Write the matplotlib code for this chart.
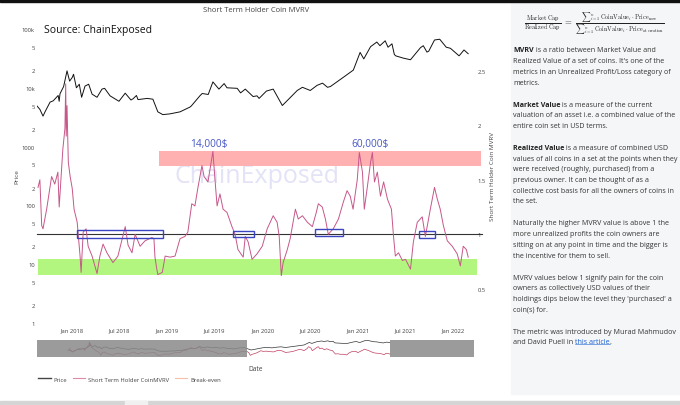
import matplotlib
matplotlib.use("Agg")
import matplotlib.pyplot as plt
import matplotlib.dates as mdates
from matplotlib.lines import Line2D
from matplotlib.patches import Rectangle
import pandas as pd

plt.rcParams['font.family'] = ['Open Sans', 'DejaVu Sans']
plt.rcParams['mathtext.fontset'] = 'cm'

# ---- values ----
price_dates = ['2017-08-19', '2017-08-30', '2017-09-11', '2017-09-20', '2017-10-08', '2017-10-20',
               '2017-11-08', '2017-11-12', '2017-11-15', '2017-11-29', '2017-12-12', '2017-12-22',
               '2018-01-01', '2018-01-06', '2018-01-17', '2018-01-28', '2018-02-06', '2018-02-19',
               '2018-03-05', '2018-03-18', '2018-04-06', '2018-04-25', '2018-05-05', '2018-05-26',
               '2018-06-29', '2018-07-23', '2018-08-14', '2018-08-22', '2018-09-04', '2018-09-10',
               '2018-10-15', '2018-11-06', '2018-11-25', '2018-12-14', '2019-01-10', '2019-02-18',
               '2019-03-28', '2019-04-02', '2019-05-05', '2019-05-14', '2019-06-06', '2019-06-24',
               '2019-07-17', '2019-08-06', '2019-08-17', '2019-09-25', '2019-10-08', '2019-10-26',
               '2019-11-25', '2019-12-10', '2019-12-18', '2020-01-15', '2020-02-10', '2020-03-16',
               '2020-04-15', '2020-05-12', '2020-06-01', '2020-07-01', '2020-07-27', '2020-08-17',
               '2020-09-05', '2020-09-16', '2020-11-04', '2020-12-13', '2021-01-08', '2021-01-22',
               '2021-02-17', '2021-03-13', '2021-03-25', '2021-04-14', '2021-04-25', '2021-05-10',
               '2021-05-19', '2021-05-24', '2021-06-22', '2021-07-20', '2021-08-27', '2021-09-07',
               '2021-09-21', '2021-09-28', '2021-10-20', '2021-11-09', '2021-12-04', '2021-12-20',
               '2022-01-22', '2022-01-27', '2022-02-10', '2022-02-26']
price_values = [4900, 4300, 3300, 4000, 5700, 6000,
                7400, 5900, 7900, 10500, 19400, 13000,
                15000, 17000, 10000, 11500, 6900, 10700,
                11500, 7800, 6900, 9500, 9800, 7300,
                5900, 8100, 6200, 6500, 7400, 6300,
                6600, 6400, 3900, 3500, 3600, 3900,
                4700, 4900, 7300, 8000, 7700, 12600,
                9500, 11800, 10000, 9800, 8200, 9500,
                7100, 7300, 6600, 8800, 9500, 5000,
                6800, 9000, 10200, 9000, 11000, 12000,
                10200, 10500, 15000, 20000, 40000, 31000,
                50000, 60000, 52000, 63000, 49000, 56000,
                37000, 35000, 32000, 30000, 48000, 52000,
                40500, 42000, 65000, 67000, 49000, 47000,
                35000, 37000, 44000, 38000]

mvrv_dates = ['2017-08-23', '2017-08-30', '2017-09-06', '2017-09-11', '2017-09-25', '2017-10-14',
              '2017-10-26', '2017-11-07', '2017-11-12', '2017-11-23', '2017-11-26', '2017-12-04',
              '2017-12-07', '2017-12-09', '2017-12-12', '2017-12-17', '2017-12-24', '2018-01-01',
              '2018-01-08', '2018-01-20', '2018-01-31', '2018-02-04', '2018-02-12', '2018-02-23',
              '2018-03-03', '2018-03-18', '2018-04-06', '2018-04-17', '2018-04-29', '2018-05-14',
              '2018-06-06', '2018-06-25', '2018-07-23', '2018-08-03', '2018-08-18', '2018-08-30',
              '2018-09-18', '2018-10-07', '2018-11-02', '2018-11-10', '2018-11-14', '2018-11-21',
              '2018-11-25', '2018-12-12', '2018-12-23', '2019-01-11', '2019-01-30', '2019-02-18',
              '2019-03-09', '2019-03-20', '2019-04-04', '2019-04-16', '2019-04-27', '2019-05-13',
              '2019-05-21', '2019-06-05', '2019-06-24', '2019-07-02', '2019-07-10', '2019-07-21',
              '2019-08-02', '2019-08-17', '2019-09-05', '2019-09-17', '2019-09-28', '2019-10-18',
              '2019-10-26', '2019-11-06', '2019-11-21', '2019-12-10', '2019-12-30', '2020-01-18',
              '2020-02-10', '2020-02-25', '2020-03-04', '2020-03-12', '2020-03-19', '2020-04-04',
              '2020-04-15', '2020-05-05', '2020-05-16', '2020-06-01', '2020-06-20', '2020-07-09',
              '2020-07-24', '2020-08-01', '2020-08-16', '2020-08-28', '2020-09-08', '2020-09-27',
              '2020-10-17', '2020-11-04', '2020-11-19', '2020-12-01', '2020-12-12', '2020-12-28',
              '2021-01-05', '2021-01-17', '2021-01-24', '2021-02-05', '2021-02-17', '2021-02-24',
              '2021-03-04', '2021-03-15', '2021-03-27', '2021-04-08', '2021-04-23', '2021-05-08',
              '2021-05-16', '2021-05-23', '2021-06-04', '2021-06-19', '2021-07-01', '2021-07-20',
              '2021-07-31', '2021-08-15', '2021-09-03', '2021-09-15', '2021-10-04', '2021-10-20',
              '2021-10-31', '2021-11-11', '2021-11-23', '2021-12-08', '2021-12-27', '2022-01-15',
              '2022-01-27', '2022-02-07', '2022-02-19', '2022-02-26']
mvrv_values = [1.43, 1.50, 1.08, 1.05, 1.23, 1.53,
               1.46, 1.57, 1.25, 1.66, 1.78, 1.97,
               2.38, 1.90, 2.18, 1.66, 1.53, 1.42,
               1.23, 1.11, 0.80, 0.65, 1.02, 1.05,
               0.89, 0.80, 0.64, 0.80, 0.91, 0.83,
               0.74, 0.80, 1.07, 0.90, 0.83, 1.00,
               0.89, 0.94, 0.97, 0.96, 0.79, 0.68,
               0.63, 0.65, 0.80, 0.79, 0.80, 0.96,
               0.98, 1.02, 1.28, 1.26, 1.42, 1.63,
               1.53, 1.48, 1.76, 1.50, 1.26, 1.37,
               1.23, 1.20, 1.07, 1.00, 0.86, 0.79,
               0.98, 0.93, 0.77, 0.82, 0.89, 1.05,
               1.17, 1.11, 0.98, 0.62, 0.74, 0.86,
               0.96, 1.23, 1.14, 1.17, 1.11, 1.07,
               1.20, 1.28, 1.25, 1.14, 1.00, 1.05,
               1.14, 1.29, 1.40, 1.35, 1.23, 1.50,
               1.75, 1.57, 1.23, 1.44, 1.66, 1.75,
               1.48, 1.57, 1.35, 1.48, 1.32, 1.23,
               0.98, 0.80, 0.83, 0.76, 0.77, 0.68,
               0.93, 1.11, 1.16, 0.98, 1.23, 1.43,
               1.32, 1.23, 1.08, 0.94, 0.89, 0.82,
               0.71, 0.89, 0.86, 0.79]

# zones and boxes drawn on the MVRV scale
red_zone = ('2018-11-29', '2022-04-16', 1.627, 1.764)
green_zone = ('2017-08-22', '2022-04-01', 0.627, 0.773)
break_even = ('2017-08-19', '2022-04-20', 1.0)
box_starts = ['2018-01-20', '2019-09-09', '2020-07-20', '2021-08-23']
box_ends = ['2018-12-16', '2019-11-29', '2020-11-04', '2021-10-23']
box_lows = [0.966, 0.975, 0.984, 0.966]
box_highs = [1.04, 1.03, 1.05, 1.03]
peak_labels = ['14,000$', '60,000$']
peak_dates = ['2019-06-09', '2021-02-17']
peak_y = [1.83, 1.83]

price_ticks = [1, 2, 5, 10, 20, 50, 100, 200, 500, 1000, 2000, 5000, 10000, 20000, 50000, 100000]
price_tick_labels = ['1', '2', '5', '10', '2', '5', '100', '2', '5', '1000', '2', '5', '10k', '2', '5', '100k']
mvrv_ticks = [0.5, 1, 1.5, 2, 2.5]
mvrv_tick_labels = ['0.5', '1', '1.5', '2', '2.5']
date_ticks = ['2018-01-01', '2018-07-01', '2019-01-01', '2019-07-01', '2020-01-01',
              '2020-07-01', '2021-01-01', '2021-07-01', '2022-01-01']
x_range = ('2017-08-19', '2022-03-28')
slider_range = ('2017-03-13', '2023-05-04')
slider_window = ('2020-02-23', '2022-02-26')

pdates = pd.to_datetime(price_dates)
mdts = pd.to_datetime(mvrv_dates)
d = lambda s: mdates.date2num(pd.Timestamp(s))

W, H = 680, 406
fig = plt.figure(figsize=(6.8, 4.06), dpi=100)


def px_box(x0, y0, x1, y1):
    return [x0 / W, 1 - y1 / H, (x1 - x0) / W, (y1 - y0) / H]


TICK = '#444444'
PINK = '#c6578a'

# ---- main chart ----
ax = fig.add_axes(px_box(37, 30, 476, 324))
ax2 = ax.twinx()
ax.plot(pdates, price_values, color='#111111', lw=0.7, zorder=3)
ax.set_yscale('log')
ax.set_ylim(1, 100000)
ax.set_yticks(price_ticks, price_tick_labels)
ax.minorticks_off()
ax.set_xlim(pd.Timestamp(x_range[0]), pd.Timestamp(x_range[1]))
ax.set_xticks(pd.to_datetime(date_ticks))
ax.xaxis.set_major_formatter(mdates.DateFormatter('%b %Y'))
ax.tick_params(length=0, labelsize=4.2, labelcolor=TICK, pad=1.5)
ax.tick_params(axis='x', pad=3)
ax.text(0.5, 0.5, 'ChainExposed', transform=ax.transAxes, ha='center', va='center',
        fontsize=18, color='#e3e3f7', zorder=0)

ax2.set_ylim(0.186, 2.883)
ax2.set_yticks(mvrv_ticks, mvrv_tick_labels)
ax2.tick_params(length=0, labelsize=4.2, labelcolor=TICK, pad=1)
for a in (ax, ax2):
    for s in a.spines.values():
        s.set_visible(False)

for zone, col in ((red_zone, '#ffb0b0'), (green_zone, '#b2f680')):
    ax2.add_patch(Rectangle((d(zone[0]), zone[2]), d(zone[1]) - d(zone[0]), zone[3] - zone[2],
                            facecolor=col, edgecolor='none', clip_on=False, zorder=1))
ax2.plot([pd.Timestamp(break_even[0]), pd.Timestamp(break_even[1])], [break_even[2]] * 2,
         color='#333333', lw=0.8, clip_on=False, zorder=2)
ax2.plot(mdts, mvrv_values, color=PINK, lw=0.7, zorder=3)
for s, e, lo, hi in zip(box_starts, box_ends, box_lows, box_highs):
    ax2.add_patch(Rectangle((d(s), lo), d(e) - d(s), hi - lo, facecolor='none',
                            edgecolor='#3b45c2', lw=1.0, zorder=4))
for lab, dt, yv in zip(peak_labels, peak_dates, peak_y):
    ax2.text(pd.Timestamp(dt), yv, lab, ha='center', va='center', fontsize=7.3, color='#4657c4')

# ---- range slider ----
sl = fig.add_axes(px_box(37, 341, 474, 358))
sl2 = sl.twinx()
sl.plot(pdates, price_values, color='#333333', lw=0.5)
sl.set_yscale('log')
sl.set_ylim(720, 79000)
sl2.plot(mdts, mvrv_values, color='#c04060', lw=0.5)
sl2.set_ylim(0.41, 2.62)
sl.set_xlim(pd.Timestamp(slider_range[0]), pd.Timestamp(slider_range[1]))
sl2.axvspan(pd.Timestamp(slider_range[0]), pd.Timestamp(slider_window[0]), color='#8a8a8a', alpha=0.85, lw=0, zorder=5)
sl2.axvspan(pd.Timestamp(slider_window[1]), pd.Timestamp(slider_range[1]), color='#8a8a8a', alpha=0.85, lw=0, zorder=5)
for a in (sl, sl2):
    a.axis('off')

# ---- overlay: texts, legend, side panel ----
ov = fig.add_axes([0, 0, 1, 1])
ov.set_xlim(0, W)
ov.set_ylim(H, 0)
ov.axis('off')
ov.add_patch(Rectangle((0, 0), W, 2.5, color='#111111', zorder=5))
ov.add_patch(Rectangle((0, 402), W, 4, color='#d5d5d5', zorder=5))
ov.add_patch(Rectangle((125, 402), 22, 4, color='#f0f0f0', zorder=6))
ov.add_patch(Rectangle((511, 2.5), W - 511, 392.5, color='#f5f6f8', zorder=0))

ov.text(256, 11, 'Short Term Holder Coin MVRV', ha='center', va='center', fontsize=5.5, color=TICK)
ov.text(44, 31, 'Source: ChainExposed', ha='left', va='center', fontsize=7.5, color='#111111')
ov.text(17, 177, 'Price', rotation=90, ha='center', va='center', fontsize=4.6, color=TICK)
ov.text(493, 177, 'Short Term Holder Coin MVRV', rotation=90, ha='center', va='center',
        fontsize=4.6, color=TICK)
ov.text(256, 370, 'Date', ha='center', va='center', fontsize=4.8, color=TICK)

handles = [Line2D([], [], color='#444444', lw=1.0), Line2D([], [], color='#e08aa8', lw=0.8),
           Line2D([], [], color='#f6bfa8', lw=0.8)]
fig.legend(handles, ['Price', 'Short Term Holder CoinMVRV', 'Break-even'], ncol=3,
           loc='center left', bbox_to_anchor=(38 / W, 1 - 380 / H), frameon=False,
           fontsize=4.2, labelcolor=TICK, handlelength=2.2, handletextpad=0.5,
           columnspacing=0.9, borderaxespad=0, borderpad=0)

ov.text(594, 24, r'$\frac{\mathrm{Market\ Cap}}{\mathrm{Realized\ Cap}}\ =\ '
        r'\frac{{\sum}_{i=1}^{n}\,\mathrm{CoinValue}_i\cdot\mathrm{Price}_{\mathrm{now}}}'
        r'{{\sum}_{i=1}^{n}\,\mathrm{CoinValue}_i\cdot\mathrm{Price}_{\mathrm{at\ creation}}}$',
        ha='center', va='center', fontsize=6.3, color='#222222')

paragraphs = [
    ('MVRV', [' is a ratio between Market Value and',
              "Realized Value of a set of coins. It's one of the",
              'metrics in an Unrealized Profit/Loss category of', 'metrics.']),
    ('Market Value', [' is a measure of the current',
                      'valuation of an asset i.e. a combined value of the',
                      'entire coin set in USD terms.']),
    ('Realized Value', [' is a measure of combined USD',
                        'values of all coins in a set at the points when they',
                        'were received (roughly, purchased) from a',
                        'previous owner. It can be thought of as a',
                        'collective cost basis for all the owners of coins in', 'the set.']),
    ('', ['Naturally the higher MVRV value is above 1 the',
          'more unrealized profits the coin owners are',
          'sitting on at any point in time and the bigger is',
          'the incentive for them to sell.']),
    ('', ['MVRV values below 1 signify pain for the coin',
          'owners as collectively USD values of their',
          "holdings dips below the level they 'purchased' a", 'coin(s) for.']),
    ('', ['The metric was introduced by Murad Mahmudov', 'and David Puell in ']),
]
FS = 5.1
TXT = '#333333'
y = 51
last = None
for bold, lines in paragraphs:
    for i, line in enumerate(lines):
        if i == 0 and bold:
            b = ov.text(513, y, bold, ha='left', va='center', fontsize=FS, fontweight='bold', color='#222222')
            ov.annotate(line, xy=(1, 0), xycoords=b, ha='left', va='bottom', fontsize=FS, color=TXT)
        else:
            last = ov.text(513, y, line, ha='left', va='center', fontsize=FS, color=TXT)
        y += 10.7
    y += 11.3
link = ov.annotate('this article', xy=(1, 0), xycoords=last, ha='left', va='bottom', fontsize=FS, color='#1a5fd0')
ov.annotate('.', xy=(1, 0), xycoords=link, ha='left', va='bottom', fontsize=FS, color=TXT)
fig.canvas.draw()
bb = link.get_window_extent()
inv = ov.transData.inverted()
(lx0, ly0), (lx1, _) = inv.transform([(bb.x0, bb.y0 + 1.5), (bb.x1, bb.y0)])
ov.plot([lx0, lx1], [ly0, ly0], color='#1a5fd0', lw=0.4)

fig.savefig('out.png', dpi=100)
